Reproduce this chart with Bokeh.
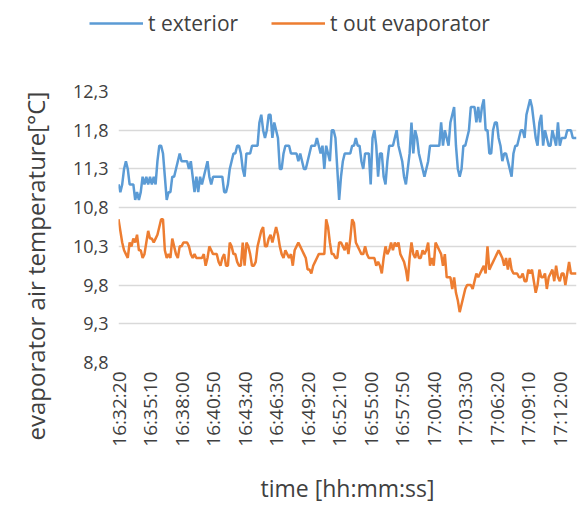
import math
from bokeh.plotting import figure
from bokeh.layouts import column
from bokeh.models import FixedTicker, Legend, LegendItem, Title
from bokeh.embed import file_html
from bokeh.resources import INLINE

t_exterior = [
    11.1, 11.0, 11.1, 11.3, 11.4, 11.3, 11.1, 11.1, 11.1, 10.9,
    11.0, 10.9, 11.0, 11.2, 11.1, 11.2, 11.1, 11.2, 11.1, 11.2,
    11.1, 11.4, 11.6, 11.6, 11.5, 11.2, 10.9, 11.0, 11.0, 11.2,
    11.2, 11.3, 11.4, 11.5, 11.4, 11.4, 11.4, 11.4, 11.3, 11.4,
    11.2, 11.0, 11.2, 11.0, 11.2, 11.1, 11.2, 11.3, 11.4, 11.2,
    11.1, 11.2, 11.2, 11.2, 11.2, 11.2, 11.2, 11.0, 11.0, 11.1,
    11.3, 11.4, 11.5, 11.5, 11.6, 11.6, 11.5, 11.3, 11.2, 11.5,
    11.5, 11.5, 11.6, 11.6, 11.6, 11.6, 11.9, 12.0, 11.8, 11.7,
    11.8, 12.0, 12.0, 11.7, 11.9, 11.8, 11.7, 11.3, 11.3, 11.5,
    11.6, 11.6, 11.6, 11.5, 11.5, 11.5, 11.5, 11.4, 11.5, 11.4,
    11.3, 11.3, 11.4, 11.5, 11.6, 11.6, 11.6, 11.7, 11.6, 11.5,
    11.6, 11.3, 11.6, 11.5, 11.4, 11.8, 11.8, 11.7, 11.3, 10.9,
    11.2, 11.4, 11.5, 11.5, 11.5, 11.5, 11.6, 11.6, 11.7, 11.6,
    11.6, 11.4, 11.3, 11.5, 11.5, 11.5, 11.1, 11.7, 11.8, 11.6,
    11.2, 11.5, 11.5, 11.2, 11.1, 11.4, 11.6, 11.6, 11.6, 11.7,
    11.8, 11.6, 11.5, 11.4, 11.2, 11.1, 11.3, 11.5, 11.9, 11.5,
    11.8, 11.7, 11.5, 11.4, 11.3, 11.2, 11.3, 11.4, 11.6, 11.6,
    11.6, 11.6, 11.6, 11.6, 11.9, 11.6, 11.8, 11.7, 11.6, 11.9,
    12.0, 12.1, 11.6, 11.3, 11.2, 11.3, 11.6, 11.6, 11.7, 11.8,
    12.1, 12.1, 12.1, 11.9, 12.1, 11.9, 12.1, 12.2, 11.8, 11.8,
    11.5, 11.5, 11.8, 11.9, 11.9, 11.7, 11.6, 11.4, 11.5, 11.5,
    11.4, 11.3, 11.2, 11.5, 11.6, 11.6, 11.7, 11.8, 11.8, 11.7,
    12.0, 12.1, 12.2, 12.1, 11.9, 11.7, 11.6, 11.9, 12.0, 11.6,
    11.8, 11.7, 11.6, 11.6, 11.8, 11.7, 11.6, 11.9, 11.6, 11.7,
    11.7, 11.7, 11.8, 11.8, 11.8, 11.7, 11.7, 11.7,
]

t_out_evaporator = [
    10.65, 10.5, 10.35, 10.25, 10.2, 10.15, 10.35, 10.3, 10.4, 10.35,
    10.45, 10.25, 10.25, 10.15, 10.2, 10.35, 10.5, 10.4, 10.4, 10.35,
    10.4, 10.45, 10.55, 10.65, 10.65, 10.25, 10.15, 10.2, 10.15, 10.4,
    10.3, 10.2, 10.15, 10.3, 10.3, 10.35, 10.35, 10.35, 10.3, 10.2,
    10.15, 10.2, 10.15, 10.15, 10.15, 10.15, 10.2, 10.05, 10.15, 10.3,
    10.25, 10.2, 10.2, 10.2, 10.1, 10.05, 10.15, 10.2, 10.05, 10.05,
    10.35, 10.3, 10.2, 10.2, 10.1, 10.05, 10.05, 10.35, 10.05, 10.35,
    10.3, 10.2, 10.05, 10.05, 10.1, 10.3, 10.4, 10.5, 10.55, 10.3,
    10.3, 10.4, 10.45, 10.35, 10.45, 10.55, 10.45, 10.3, 10.2, 10.15,
    10.25, 10.2, 10.15, 10.2, 10.05, 10.25, 10.3, 10.35, 10.3, 10.25,
    10.2, 10.15, 10.0, 10.0, 9.95, 10.05, 10.1, 10.15, 10.2, 10.2,
    10.2, 10.2, 10.65, 10.55, 10.35, 10.2, 10.2, 10.15, 10.15, 10.35,
    10.35, 10.3, 10.25, 10.35, 10.2, 10.4, 10.65, 10.6, 10.35, 10.3,
    10.25, 10.2, 10.2, 10.3, 10.2, 10.15, 10.15, 10.15, 10.15, 10.05,
    10.1, 10.05, 9.95, 10.15, 10.3, 10.2, 10.25, 10.35, 10.25, 10.35,
    10.3, 10.35, 10.2, 10.15, 10.1, 10.0, 9.85, 10.15, 10.35, 10.2,
    10.15, 10.25, 10.15, 10.15, 10.25, 10.2, 10.25, 10.35, 10.05, 10.15,
    10.05, 10.35, 10.3, 10.25, 10.2, 10.05, 10.2, 9.9, 9.9, 9.9,
    9.75, 9.9, 9.7, 9.6, 9.45, 9.55, 9.65, 9.75, 9.8, 9.8,
    9.8, 9.75, 9.85, 9.95, 9.9, 9.95, 10.0, 10.05, 9.95, 10.3,
    10.0, 10.05, 10.1, 10.15, 10.2, 10.25, 10.2, 10.15, 10.05, 10.15,
    10.0, 10.15, 10.0, 9.95, 9.95, 9.95, 9.9, 9.9, 9.95, 9.85,
    9.85, 10.0, 9.95, 10.0, 9.85, 9.7, 9.8, 10.0, 9.9, 9.9,
    9.95, 9.75, 9.9, 9.95, 10.0, 9.85, 10.05, 9.9, 9.85, 9.95,
    9.95, 9.8, 9.95, 10.1, 9.95, 9.95, 9.95, 9.95,
]

x_tick_labels = [
    "16:32:20", "16:35:10", "16:38:00", "16:40:50", "16:43:40",
    "16:46:30", "16:49:20", "16:52:10", "16:55:00", "16:57:50",
    "17:00:40", "17:03:30", "17:06:20", "17:09:10", "17:12:00",
]
x_tick_step = 17

y_ticks = [8.8, 9.3, 9.8, 10.3, 10.8, 11.3, 11.8, 12.3]
y_tick_labels = ["8,8", "9,3", "9,8", "10,3", "10,8", "11,3", "11,8", "12,3"]

series_names = ["t exterior", "t out evaporator"]
y_title = "evaporator air temperature[°C]"
x_title = "time [hh:mm:ss]"

FONT = "Open Sans"
TXT = "#404040"
BLUE = "#5b9bd5"
ORANGE = "#ed7d31"
W = 577
LEG_H = 60

n = len(t_exterior)
idx = list(range(n))

# ---- legend strip (its own small figure, lines kept outside its range) ----
pl = figure(width=W, height=LEG_H, output_backend="svg", toolbar_location=None,
            x_axis_type=None, y_axis_type=None, x_range=(0, 1), y_range=(0, 1),
            min_border=0)
pl.frame_align = False
pl.outline_line_color = None
pl.xgrid.visible = False
pl.ygrid.visible = False
lr1 = pl.line(idx, t_exterior, line_color=BLUE, line_width=2.5)
lr2 = pl.line(idx, t_out_evaporator, line_color=ORANGE, line_width=2.5)
legend = Legend(items=[LegendItem(label=series_names[0], renderers=[lr1]),
                       LegendItem(label=series_names[1], renderers=[lr2])],
                orientation="horizontal", location=(89, 23),
                border_line_color=None, background_fill_alpha=0,
                padding=0, margin=0, spacing=33,
                glyph_width=54, glyph_height=20, label_height=20,
                label_standoff=5,
                label_text_font=FONT, label_text_font_size="21px",
                label_text_color=TXT)
pl.add_layout(legend, "center")

# ---- main chart ----
p = figure(width=W, height=506 - LEG_H, output_backend="svg", toolbar_location=None,
           x_range=(0, n - 1), y_range=(y_ticks[0], y_ticks[-1]),
           min_border_left=117, min_border_right=1, min_border_top=91 - LEG_H,
           min_border_bottom=144)
p.frame_align = False
p.outline_line_color = None
p.background_fill_color = "white"
p.border_fill_color = "white"

p.line(idx, t_exterior, line_color=BLUE, line_width=2.5)
p.line(idx, t_out_evaporator, line_color=ORANGE, line_width=2.5)

xt = [i * x_tick_step for i in range(len(x_tick_labels))]
p.xaxis.ticker = FixedTicker(ticks=xt)
p.xaxis.major_label_overrides = {t: l for t, l in zip(xt, x_tick_labels)}
p.xaxis.major_label_orientation = math.pi / 2
p.yaxis.ticker = FixedTicker(ticks=y_ticks)
p.yaxis.major_label_overrides = {t: l for t, l in zip(y_ticks, y_tick_labels)}

for ax in (p.xaxis[0], p.yaxis[0]):
    ax.axis_line_color = None
    ax.major_tick_line_color = None
    ax.minor_tick_line_color = None
    ax.major_tick_out = 0
    ax.minor_tick_out = 0
    ax.major_label_text_font = FONT
    ax.major_label_text_color = TXT
p.xaxis.major_label_text_font_size = "19px"
p.yaxis.major_label_text_font_size = "18px"
p.xaxis.major_label_standoff = 9
p.yaxis.major_label_standoff = 10

p.xaxis.axis_label = x_title
p.xaxis.axis_label_text_font = FONT
p.xaxis.axis_label_text_font_size = "23px"
p.xaxis.axis_label_text_font_style = "normal"
p.xaxis.axis_label_text_color = TXT
p.xaxis.axis_label_standoff = 22

p.xgrid.visible = False
p.ygrid.ticker = FixedTicker(ticks=y_ticks)
p.ygrid.grid_line_color = "#d9d9d9"
p.ygrid.grid_line_width = 1.3

ytitle = Title(text=y_title, align="left", offset=-78, vertical_align="middle",
               standoff=34, text_font=FONT, text_font_size="24px",
               text_font_style="normal", text_color=TXT)
p.add_layout(ytitle, "left")

layout = column(pl, p, spacing=0)
open("out.html", "w").write(file_html(layout, INLINE))
